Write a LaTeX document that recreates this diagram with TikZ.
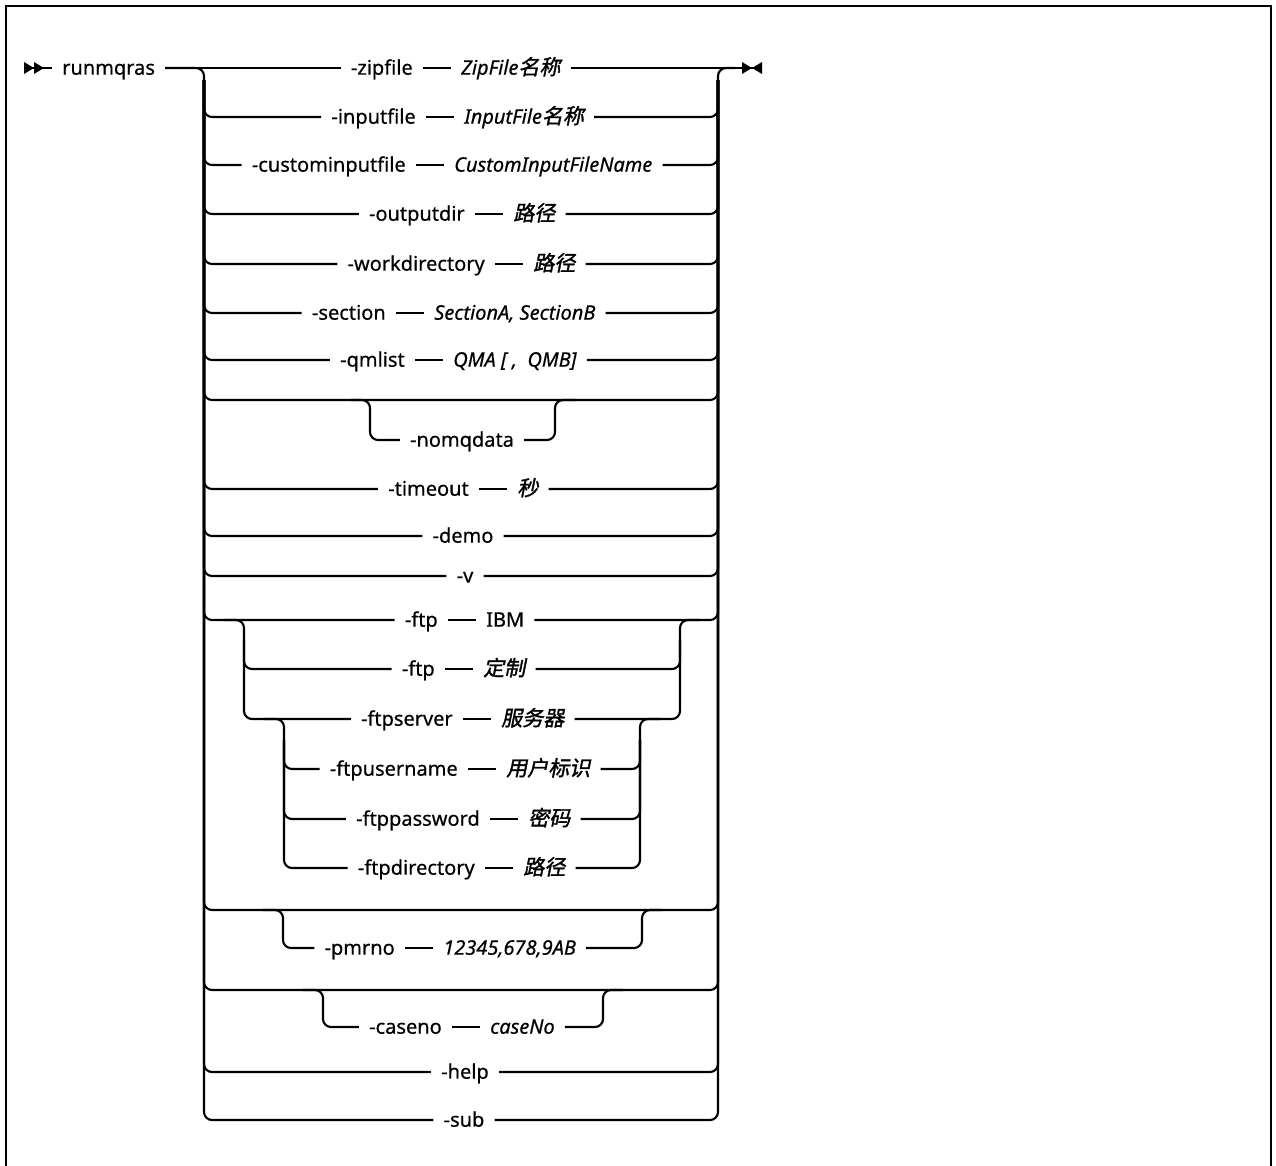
\documentclass[tikz,border=0pt]{standalone}
\usepackage{fontspec}
\setmainfont{Noto Sans}[FakeBold=0.5]
\newfontfamily\cjkfont{Noto Sans CJK SC}[FakeSlant=0.2,FakeBold=1.5,Scale=1.05]
\usepackage{tikz}
\usetikzlibrary{arrows.meta,positioning}
\newcommand{\zh}[1]{{\cjkfont #1}}
\tikzset{
  rail/.style={line width=1.6pt,rounded corners=6pt},
  frame/.style={line width=2.2pt},
  kw/.style={inner xsep=7.5pt,inner ysep=0pt,text height=12pt,text depth=2pt,
             font=\fontsize{15}{18}\selectfont},
  arg/.style={kw,font=\fontsize{15}{18}\selectfont\itshape},
  begmark/.style={{Triangle[length=7.5pt,width=8.5pt,reversed]Triangle[length=7.5pt,width=8.5pt,reversed]}-},
  endmark/.style={-{Triangle[length=7.5pt,width=8.5pt]Triangle[length=7.5pt,width=8.5pt,reversed]}},
}
\begin{document}
\begin{tikzpicture}[x=0.75pt,y=-0.75pt,node distance=21pt]
  \useasboundingbox (0,0) rectangle (1276,1165);
  \draw[frame] (6,1175) -- (6,6) -- (1271,6) -- (1271,1175);
  \coordinate (st) at (24,68);
  \coordinate (fin) at (762,68);
  \coordinate (j) at (735,68);
  \coordinate (L) at (204,80);
  \coordinate (R) at (718,80);
  \node[kw,anchor=west] (run) at (52,68) {runmqras};
  \node[kw,anchor=east] (k1) at (423,68) {-zipfile};
  \node[arg,right=of k1] (v1) {ZipFile\zh{名称}};
  \node[kw,anchor=east] (k2) at (426,117) {-inputfile};
  \node[arg,right=of k2] (v2) {InputFile\zh{名称}};
  \node[kw,anchor=east] (k3) at (416,165) {-custominputfile};
  \node[arg,right=of k3] (v3) {CustomInputFileName};
  \node[kw,anchor=east] (k4) at (475,214) {-outputdir};
  \node[arg,right=of k4] (v4) {\zh{路径}};
  \node[kw,anchor=east] (k5) at (495,264) {-workdirectory};
  \node[arg,right=of k5] (v5) {\zh{路径}};
  \node[kw,anchor=east] (k6) at (396,313) {-section};
  \node[arg,right=of k6] (v6) {SectionA, SectionB};
  \node[kw,anchor=east] (k7) at (415,360) {-qmlist};
  \node[arg,right=of k7] (v7) {QMA [ , \ QMB]};
  \coordinate (b8) at (461,400);
  \coordinate (o8L) at (370,400);
  \coordinate (o8R) at (555,400);
  \node[kw,alias=v8] (k8) at (462,440) {-nomqdata};
  \node[kw,anchor=east] (k9) at (479,489) {-timeout};
  \node[arg,right=of k9] (v9) {\zh{秒}};
  \node[kw,alias=v10] (k10) at (463,536) {-demo};
  \node[kw,alias=v11] (k11) at (465,576) {-v};
  \node[kw,anchor=east] (k12) at (448,620) {-ftp};
  \node[kw,right=of k12] (v12) {IBM};
  \coordinate (fL) at (244,640);
  \coordinate (fR) at (680,640);
  \node[kw,anchor=east] (k13) at (445,669) {-ftp};
  \node[arg,right=of k13] (v13) {\zh{定制}};
  \node[kw,anchor=east] (k14) at (463,719) {-ftpserver};
  \node[arg,right=of k14] (v14) {\zh{服务器}};
  \coordinate (sL) at (284,740);
  \coordinate (sR) at (640,740);
  \node[kw,anchor=east] (k15) at (468,769) {-ftpusername};
  \node[arg,right=of k15] (v15) {\zh{用户标识}};
  \node[kw,anchor=east] (k16) at (490,819) {-ftppassword};
  \node[arg,right=of k16] (v16) {\zh{密码}};
  \node[kw,anchor=east] (k17) at (485,868) {-ftpdirectory};
  \node[arg,right=of k17] (v17) {\zh{路径}};
  \coordinate (b18) at (461,910);
  \coordinate (o18L) at (283,910);
  \coordinate (o18R) at (642,910);
  \node[kw,anchor=east] (k18) at (405,948) {-pmrno};
  \node[arg,right=of k18] (v18) {12345,678,9AB};
  \coordinate (b19) at (461,990);
  \coordinate (o19L) at (323,990);
  \coordinate (o19R) at (603,990);
  \node[kw,anchor=east] (k19) at (452,1027) {-caseno};
  \node[arg,right=of k19] (v19) {caseNo};
  \node[kw,alias=v20] (k20) at (465,1072) {-help};
  \node[kw,alias=v21] (k21) at (464,1120) {-sub};

  \draw[rail,begmark] (st) -- (run.west);
  \draw[rail] (run.east) -- (k1.west);
  \draw[rail] (run.east) -| (L);
  \draw[rail,endmark] (v1.east) -- (fin);
  \draw[rail] (R) |- (j);
  \foreach \i in {1,...,7,9,12,13,14,15,16,17,18,19}
    \draw[rail] (k\i.east) -- (v\i.west);
  \foreach \i in {2,...,7,9,10,11,12,20,21} {
    \draw[rail] (L) |- (k\i.west);
    \draw[rail] (v\i.east) -| (R);
  }
  \foreach \b in {b8,b18,b19}
    \draw[rail] (L) |- (\b) -| (R);
  \foreach \i in {8,18,19} {
    \draw[rail] (k\i.west) -| (o\i L) -- +(-20,0);
    \draw[rail] (v\i.east) -| (o\i R) -- +(20,0);
  }
  \draw[rail] (k14.west) -| (fL |- k12.west) -- +(-20,0);
  \draw[rail] (k13.west) -| (fL);
  \draw[rail] (v14.east) -| (fR |- v12.east) -- +(20,0);
  \draw[rail] (v13.east) -| (fR);
  \draw[rail] (k17.west) -| (sL |- k14.west) -- +(-20,0);
  \draw[rail] (v17.east) -| (sR |- v14.east) -- +(20,0);
  \foreach \i in {15,16} {
    \draw[rail] (k\i.west) -| (sL);
    \draw[rail] (v\i.east) -| (sR);
  }
\end{tikzpicture}
\end{document}
